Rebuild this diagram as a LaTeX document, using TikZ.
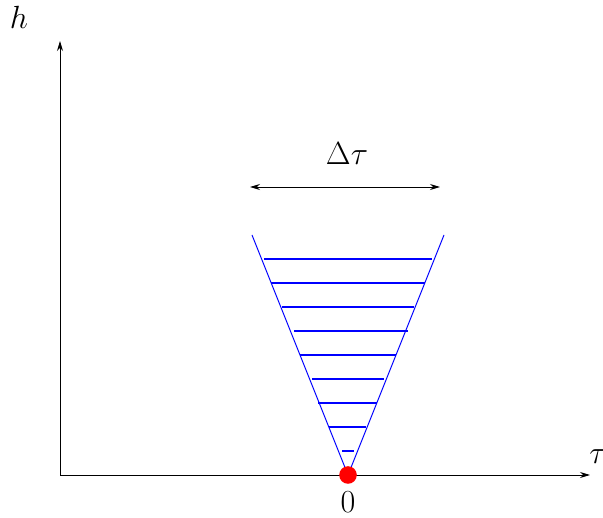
\documentclass[tikz,border=0pt]{standalone}
\usetikzlibrary{arrows.meta}
\definecolor{hatchblue}{RGB}{0,0,255}
\newcommand{\biglbl}[1]{\scalebox{1.29}{\fontsize{24.88}{30}\selectfont$#1$}}
\begin{document}
\begin{tikzpicture}[x=1pt,y=-1pt,
  axis/.style={line width=0.9pt,-{Stealth[length=10pt,width=6pt]}},
  cone/.style={draw=hatchblue,line width=1pt},
  hatchline/.style={draw=hatchblue,line width=1.1pt},
  lbl/.style={inner sep=0pt}]
\useasboundingbox (0,0) rectangle (603,518);
\coordinate (O) at (60,475);
\coordinate (ytip) at (60,41);
\coordinate (xtip) at (590,475);
\coordinate (apex) at (348,475);
\coordinate (L) at (252,235);
\coordinate (R) at (444,235);
\draw[axis] (O) -- (ytip);
\draw[axis] (O) -- (xtip);
\node[lbl] (h) at (19,17) {\biglbl{h}};
\node[lbl] (tau) at (598,457) {\biglbl{\tau}};
\draw[cone] (L) -- (apex) -- (R);
\draw[hatchline] (264,259) -- (432,259)
  (271,283) -- (425,283)
  (282,307) -- (414,307)
  (294,331) -- (408,331)
  (300,355) -- (396,355)
  (312,379) -- (384,379)
  (318,403) -- (377,403)
  (329,427) -- (366,427)
  (342,451) -- (354,451);
\fill[red] (apex) circle (8.8);
\node[lbl] (zero) at (348,502) {\biglbl{0}};
\coordinate (al) at (250,187);
\coordinate (ar) at (440,187);
\draw[line width=0.9pt,{Stealth[length=10pt,width=6pt]}-{Stealth[length=10pt,width=6pt]}] (al) -- (ar);
\node[lbl] (dt) at (347,154) {\biglbl{\Delta\tau}};
\end{tikzpicture}
\end{document}
